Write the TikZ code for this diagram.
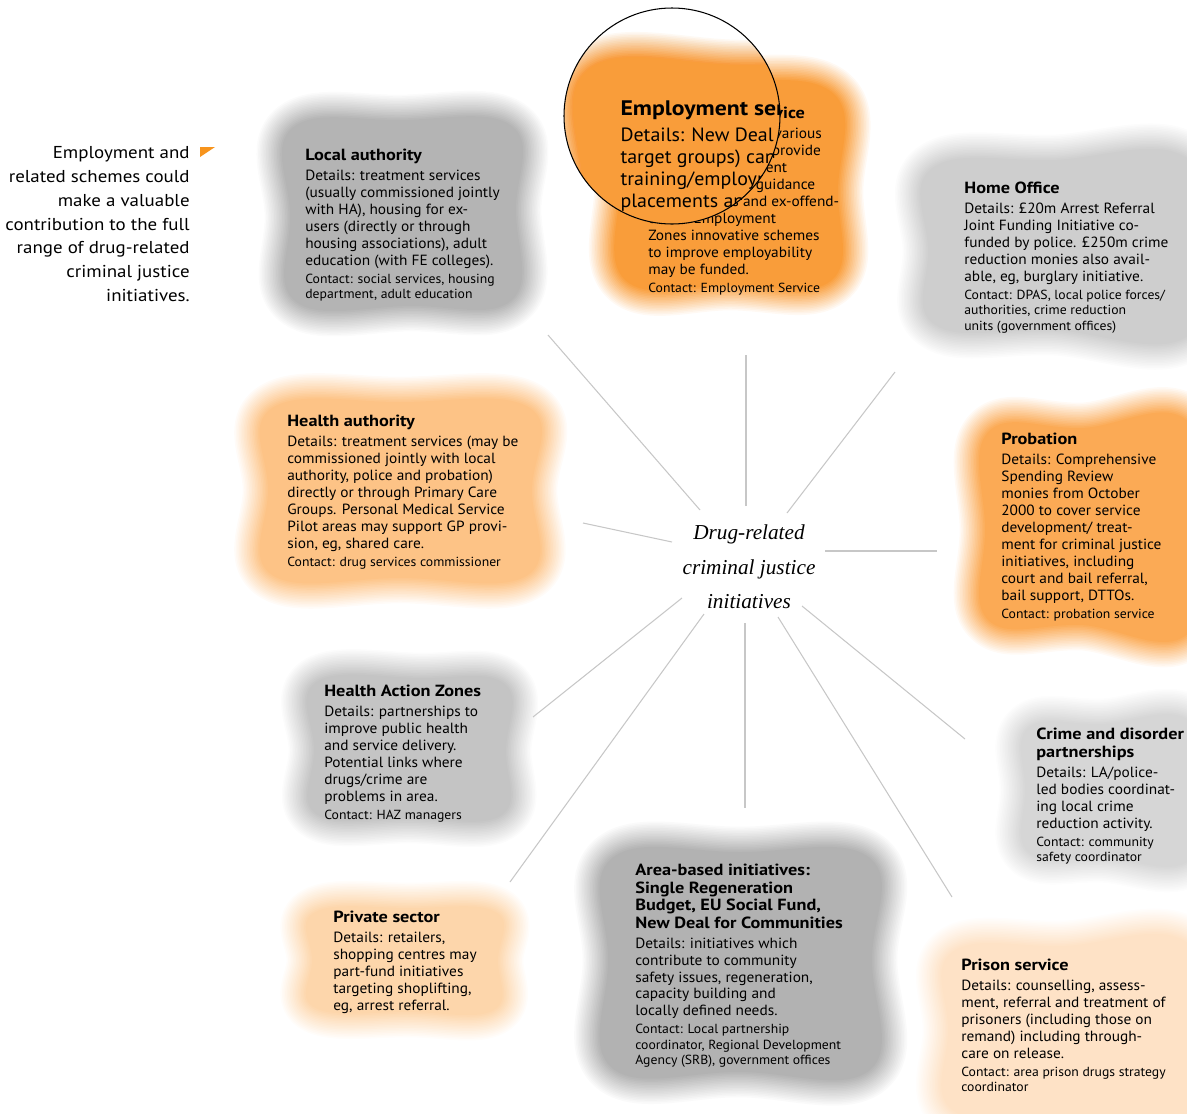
\documentclass[tikz,border=0pt]{standalone}
\usepackage{fontspec}
\setmainfont{PT Sans}[FakeStretch=1.04]
\newfontfamily\ttlfont{PT Sans}[FakeStretch=1.13]
\newfontfamily\notefont{PT Sans}[FakeStretch=1.1]
\newfontfamily\hubfont{Liberation Serif}

\definecolor{empOrange}{HTML}{F99D3A}
\definecolor{probOrange}{HTML}{FBAA55}
\definecolor{haOrange}{HTML}{FDC386}
\definecolor{privOrange}{HTML}{FDD6AB}
\definecolor{prisOrange}{HTML}{FEE2C6}
\definecolor{laGray}{HTML}{B4B4B4}
\definecolor{abiGray}{HTML}{B2B2B2}
\definecolor{hazGray}{HTML}{C4C4C4}
\definecolor{hoGray}{HTML}{CECECE}
\definecolor{cdGray}{HTML}{D6D6D6}
\definecolor{markOrange}{HTML}{F7941D}

% soft blob behind a text block (linear fade over 16 rings)
\newcommand\blob[2]{%
  \fill[#1] plot[smooth cycle, tension=0.7] coordinates {#2};
  \foreach \j [evaluate=\j as \op using 1/(\j+1),
               evaluate=\j as \lw using 1.8*\j] in {1,...,16}
    \draw[#1, draw opacity=\op, line width=\lw pt, line join=round]
      plot[smooth cycle, tension=0.7] coordinates {#2};
}
\newcommand\ttl[1]{{\ttlfont\fontsize{9.2}{10}\selectfont\bfseries #1}}
\newcommand\ctc[1]{{\fontsize{7.5}{8.8}\selectfont #1}}
\newcommand\tg{1.7pt}
\newcommand\cg{0.5pt}
\newcommand\cs{-0.85pt}

\tikzset{
  box/.style={anchor=north west, inner sep=0pt, align=left,
    font=\fontsize{8.4}{9.64}\selectfont},
  spoke/.style={draw=black!22, line width=0.6pt},
}

\begin{document}
\begin{tikzpicture}[x=0.02cm, y=-0.02cm]
  \useasboundingbox (0,0) rectangle (1187,1113);

  % Draw blobs
  \blob{laGray}{(292,128) (400,120) (512,126) (516,210) (512,300) (410,306) (296,302) (290,215)}
  \blob{empOrange}{(622,85) (730,80) (835,95) (838,190) (832,280) (730,285) (625,280) (620,180)}
  \blob{hoGray}{(932,168) (1050,160) (1195,165) (1195,330) (1050,330) (935,325) (928,250)}
  \blob{haOrange}{(272,408) (400,402) (530,408) (532,490) (528,575) (400,578) (272,575) (268,490)}
  \blob{probOrange}{(988,432) (1080,428) (1195,430) (1195,625) (1080,625) (988,620) (985,530)}
  \blob{hazGray}{(316,682) (420,678) (505,684) (506,750) (502,815) (410,818) (316,814) (314,750)}
  \blob{cdGray}{(1028,728) (1100,724) (1195,726) (1195,855) (1100,857) (1028,852) (1025,790)}
  \blob{privOrange}{(315,912) (410,908) (496,912) (498,960) (494,1010) (410,1012) (315,1008) (312,960)}
  \blob{abiGray}{(612,858) (740,852) (870,858) (872,960) (870,1070) (740,1072) (612,1068) (608,960)}
  \blob{prisOrange}{(952,952) (1060,946) (1195,950) (1195,1120) (1060,1120) (952,1110) (948,1030)}

  % Draw spokes
  \node[font=\hubfont\fontsize{12.1}{19.6}\selectfont\itshape, align=center, inner sep=0pt]
    (hub) at (749,567) {Drug-related\\criminal justice\\initiatives};
  \coordinate (inLA) at (700,510);  \coordinate (outLA) at (548,335);
  \coordinate (inES) at (746,506);  \coordinate (outES) at (746,355);
  \coordinate (inHO) at (787,513);  \coordinate (outHO) at (895,372);
  \coordinate (inHA) at (672,542);  \coordinate (outHA) at (583,523);
  \coordinate (inPB) at (825,551);  \coordinate (outPB) at (937,551);
  \coordinate (inHZ) at (682,598);  \coordinate (outHZ) at (533,717);
  \coordinate (inPS) at (704,614);  \coordinate (outPS) at (510,882);
  \coordinate (inAB) at (745,623);  \coordinate (outAB) at (745,808);
  \coordinate (inPR) at (778,617);  \coordinate (outPR) at (952,897);
  \coordinate (inCD) at (802,606);  \coordinate (outCD) at (965,739);
  \foreach \s in {LA,ES,HO,HA,PB,HZ,PS,AB,PR,CD}
    \draw[spoke] (in\s) -- (out\s);

  % Draw text blocks
  \node[box] (la) at (305,149) {\ttl{Local authority}\\[\tg]
    Details: treatment services\\
    (usually commissioned jointly\\
    with HA), housing for ex-\\
    users (directly or through\\
    housing associations), adult\\
    education (with FE colleges).\\[\cg]
    \ctc{Contact: social services, housing}\\[\cs]
    \ctc{department, adult education}};

  \node[box] (es) at (648,107) {\ttl{Employment service}\\[\tg]
    Details: New Deal (various\\
    target groups) can provide\\
    training/employment\\
    placements and guidance\\
    for drug users and ex-offend-\\
    ers. In Employment\\
    Zones innovative schemes\\
    to improve employability\\
    may be funded.\\[\cg]
    \ctc{Contact: Employment Service}};

  \node[box] (ho) at (964,182) {\ttl{Home Office}\\[\tg]
    Details: £20m Arrest Referral\\
    Joint Funding Initiative co-\\
    funded by police. £250m crime\\
    reduction monies also avail-\\
    able, eg, burglary initiative.\\[\cg]
    \ctc{Contact: DPAS, local police forces/}\\[\cs]
    \ctc{authorities, crime reduction}\\[\cs]
    \ctc{units (government offices)}};

  \node[box] (ha) at (287,415) {\ttl{Health authority}\\[\tg]
    Details: treatment services (may be\\
    commissioned jointly with local\\
    authority, police and probation)\\
    directly or through Primary Care\\
    Groups. Personal Medical Service\\
    Pilot areas may support GP provi-\\
    sion, eg, shared care.\\[\cg]
    \ctc{Contact: drug services commissioner}};

  \node[box] (pb) at (1001,433) {\ttl{Probation}\\[\tg]
    Details: Comprehensive\\
    Spending Review\\
    monies from October\\
    2000 to cover service\\
    development/ treat-\\
    ment for criminal justice\\
    initiatives, including\\
    court and bail referral,\\
    bail support, DTTOs.\\[\cg]
    \ctc{Contact: probation service}};

  \node[box] (hz) at (324,685) {\ttl{Health Action Zones}\\[\tg]
    Details: partnerships to\\
    improve public health\\
    and service delivery.\\
    Potential links where\\
    drugs/crime are\\
    problems in area.\\[\cg]
    \ctc{Contact: HAZ managers}};

  \node[box] (cd) at (1036,728) {\ttl{Crime and disorder}\\[0.6pt]
    \ttl{partnerships}\\[\tg]
    Details: LA/police-\\
    led bodies coordinat-\\
    ing local crime\\
    reduction activity.\\[\cg]
    \ctc{Contact: community}\\[\cs]
    \ctc{safety coordinator}};

  \node[box] (ps) at (333,911) {\ttl{Private sector}\\[\tg]
    Details: retailers,\\
    shopping centres may\\
    part-fund initiatives\\
    targeting shoplifting,\\
    eg, arrest referral.};

  \node[box] (ab) at (635,864) {\ttl{Area-based initiatives:}\\[0.3pt]
    \ttl{Single Regeneration}\\[0.3pt]
    \ttl{Budget, EU Social Fund,}\\[0.3pt]
    \ttl{New Deal for Communities}\\[\tg]
    Details: initiatives which\\
    contribute to community\\
    safety issues, regeneration,\\
    capacity building and\\
    locally defined needs.\\[\cg]
    \ctc{Contact: Local partnership}\\[\cs]
    \ctc{coordinator, Regional Development}\\[\cs]
    \ctc{Agency (SRB), government offices}};

  \node[box] (pr) at (961,959) {\ttl{Prison service}\\[\tg]
    Details: counselling, assess-\\
    ment, referral and treatment of\\
    prisoners (including those on\\
    remand) including through-\\
    care on release.\\[\cg]
    \ctc{Contact: area prison drugs strategy}\\[\cs]
    \ctc{coordinator}};

  % Draw magnifier
  \begin{scope}
    \clip (672,116) circle [radius=108];
    \fill[white] (672,116) circle [radius=108];
    \begin{scope}[shift={(741,131)}, scale=1.3, shift={(-741,-131)}, transform shape]
      \blob{empOrange}{(622,85) (730,80) (835,95) (838,190) (832,280) (730,285) (625,280) (620,180)}
      \node[box] (es-lens) at (648,107) {\ttl{Employment service}\\[\tg]
        Details: New Deal (various\\
        target groups) can provide\\
        training/employment\\
        placements and guidance};
    \end{scope}
  \end{scope}
  \draw[line width=0.6pt] (672,116) circle [radius=108];

  % Side note
  \node[anchor=north east, inner sep=0pt, align=right, font=\notefont\fontsize{9.8}{13.6}\selectfont]
    (note) at (190,146) {Employment and\\related schemes could\\make a valuable\\contribution to the full\\range of drug-related\\criminal justice\\initiatives.};
  \fill[markOrange] (200,147) -- (215,147) -- (200,157) -- cycle;
\end{tikzpicture}
\end{document}
